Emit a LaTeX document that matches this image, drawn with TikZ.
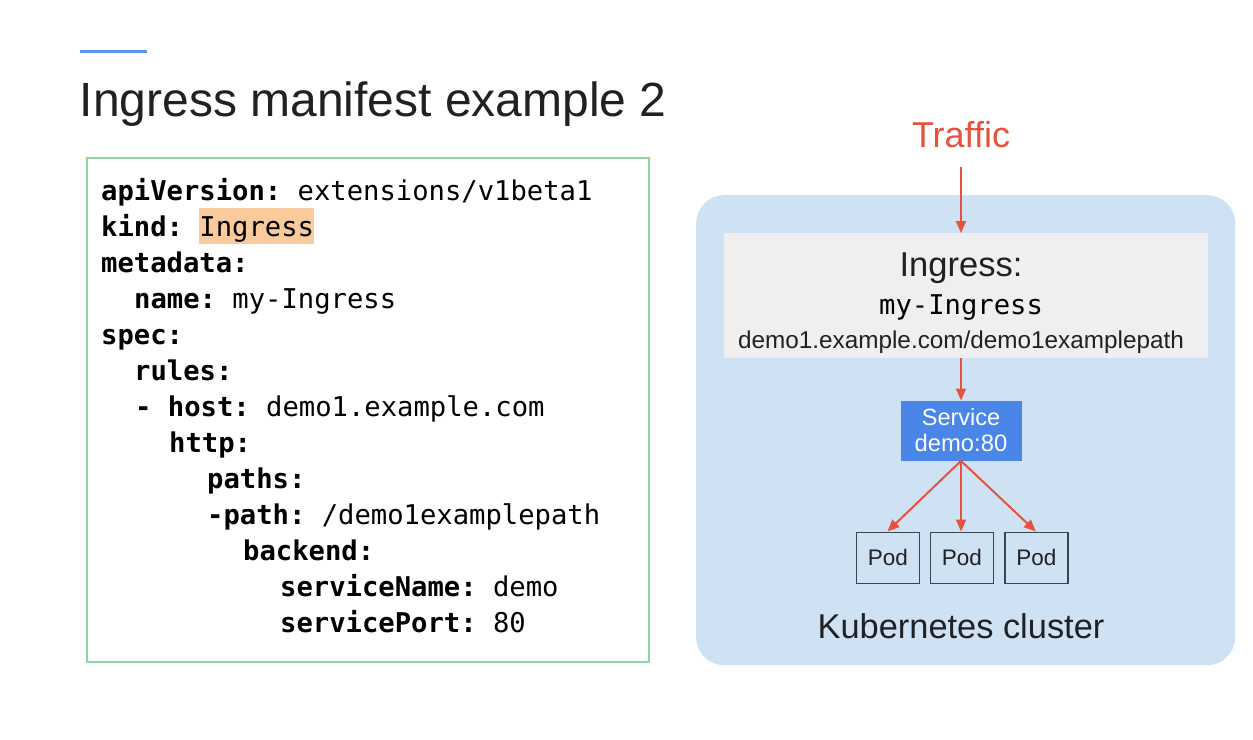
\documentclass[tikz,border=0pt]{standalone}
\usepackage{fontspec}
\setmainfont{Liberation Sans}
\newfontfamily\codefont{DejaVu Sans Mono}
\usetikzlibrary{arrows.meta}
\definecolor{accent}{HTML}{5A94E8}
\definecolor{codegreen}{HTML}{8ED49E}
\definecolor{peach}{HTML}{F9CB9C}
\definecolor{clusterblue}{HTML}{CFE2F3}
\definecolor{ingressgray}{HTML}{EFEFEF}
\definecolor{svcblue}{HTML}{4A86E8}
\definecolor{arrowred}{HTML}{E5533D}
\definecolor{textdark}{HTML}{202124}
\definecolor{podborder}{HTML}{37474F}
\frenchspacing
\tikzset{
  codeline/.style={anchor=base west, inner sep=0pt, text=black,
    font=\codefont\fontsize{27.2}{36}\selectfont\frenchspacing},
  sanslabel/.style={inner sep=0pt, text=textdark},
  redarrow/.style={draw=arrowred, line width=2pt, -{Triangle[length=12pt,width=10pt]}},
  podbox/.style={draw=podborder, line width=1.8pt, fill=clusterblue,
    minimum width=63pt, minimum height=51pt, inner sep=0pt,
    font=\fontsize{22.5}{26}\selectfont, text=textdark},
  podtext/.style={anchor=base, inner sep=0pt, text=textdark, font=\fontsize{22.5}{26}\selectfont},
}
\begin{document}
\begin{tikzpicture}[x=1pt,y=-1pt]
\useasboundingbox[fill=white] (0,0) rectangle (1253,739);

% accent line and title
\draw[accent, line width=3pt] (80,51.5) -- (147,51.5);
\node[sanslabel, anchor=base west, font=\fontsize{48}{54}\selectfont] (title) at (79.5,116) {Ingress manifest example 2};

% code box
\node[draw=codegreen, line width=1.6pt, minimum width=562pt, minimum height=504pt, anchor=north west, inner sep=0pt] (codebox) at (86,157) {};
\node[fill=peach, minimum width=115pt, minimum height=36pt, anchor=north west, inner sep=0pt] (hl) at (199,208) {};

\node[codeline] (l1) at (101,200) {\textbf{apiVersion:} extensions/v1beta1};
\node[codeline] (l2) at (101,236) {\textbf{kind:} Ingress};
\node[codeline] (l3) at (101,272) {\textbf{metadata:}};
\node[codeline] (l4) at (134,308) {\textbf{name:} my-Ingress};
\node[codeline] (l5) at (101,344) {\textbf{spec:}};
\node[codeline] (l6) at (134,380) {\textbf{rules:}};
\node[codeline] (l7) at (135,416) {\textbf{- host:} demo1.example.com};
\node[codeline] (l8) at (169,452) {\textbf{http:}};
\node[codeline] (l9) at (207,488) {\textbf{paths:}};
\node[codeline] (l10) at (207,524) {\textbf{-path:} /demo1examplepath};
\node[codeline] (l11) at (243,560) {\textbf{backend:}};
\node[codeline] (l12) at (280,596) {\textbf{serviceName:} demo};
\node[codeline] (l13) at (280,632) {\textbf{servicePort:} 80};

% right panel
\node[fill=clusterblue, rounded corners=28pt, minimum width=539pt, minimum height=470pt, anchor=north west, inner sep=0pt] (cluster) at (696,195) {};
\node[sanslabel, anchor=base, font=\fontsize{36}{40}\selectfont, text=arrowred] (traffic) at (961,147.5) {Traffic};
\coordinate (tstart) at (961,167);

\node[fill=ingressgray, minimum width=484pt, minimum height=125pt, anchor=north west, inner sep=0pt] (ingress) at (723.5,233) {};
\node[sanslabel, anchor=base, font=\fontsize{34.5}{40}\selectfont] (ingt) at (961,276) {Ingress:};
\node[anchor=base, inner sep=0pt, text=black, font=\codefont\fontsize{27.2}{36}\selectfont] (ingname) at (961,314) {my-Ingress};
\node[sanslabel, anchor=base, font=\fontsize{24.3}{28}\selectfont] (ingpath) at (961,348) {demo1.example.com/demo1examplepath};

\node[fill=svcblue, minimum width=121pt, minimum height=60pt, anchor=north west, inner sep=0pt] (svc) at (900.5,400.5) {};
\node[anchor=base, inner sep=0pt, text=white, font=\fontsize{23.5}{27}\selectfont] (svc1) at (961,425) {Service};
\node[anchor=base, inner sep=0pt, text=white, font=\fontsize{23.8}{27}\selectfont] (svc2) at (961,451.5) {demo:80};

\node[podbox, anchor=north west] (pod1) at (855.5,531.5) {};
\node[podbox, anchor=north west] (pod2) at (929.5,531.5) {};
\node[podbox, anchor=north west] (pod3) at (1004,531.5) {};
\node[podtext] (pod1t) at (pod1.center |- 0,565) {Pod};
\node[podtext] (pod2t) at (pod2.center |- 0,565) {Pod};
\node[podtext] (pod3t) at (pod3.center |- 0,565) {Pod};

\node[sanslabel, anchor=base, font=\fontsize{34.4}{40}\selectfont] (kc) at (961,638) {Kubernetes cluster};

% connectors
\draw[redarrow] (tstart) -- (ingress.north -| tstart);
\draw[redarrow] (ingress.south -| tstart) -- (svc.north -| tstart);
\coordinate (svcout) at (svc.south -| tstart);
\draw[redarrow] (svcout) -- ([xshift=-0.5pt]pod1.north);
\draw[redarrow] (svcout) -- (pod2.north -| tstart);
\draw[redarrow] (svcout) -- ([xshift=-0.5pt]pod3.north);
\end{tikzpicture}
\end{document}
